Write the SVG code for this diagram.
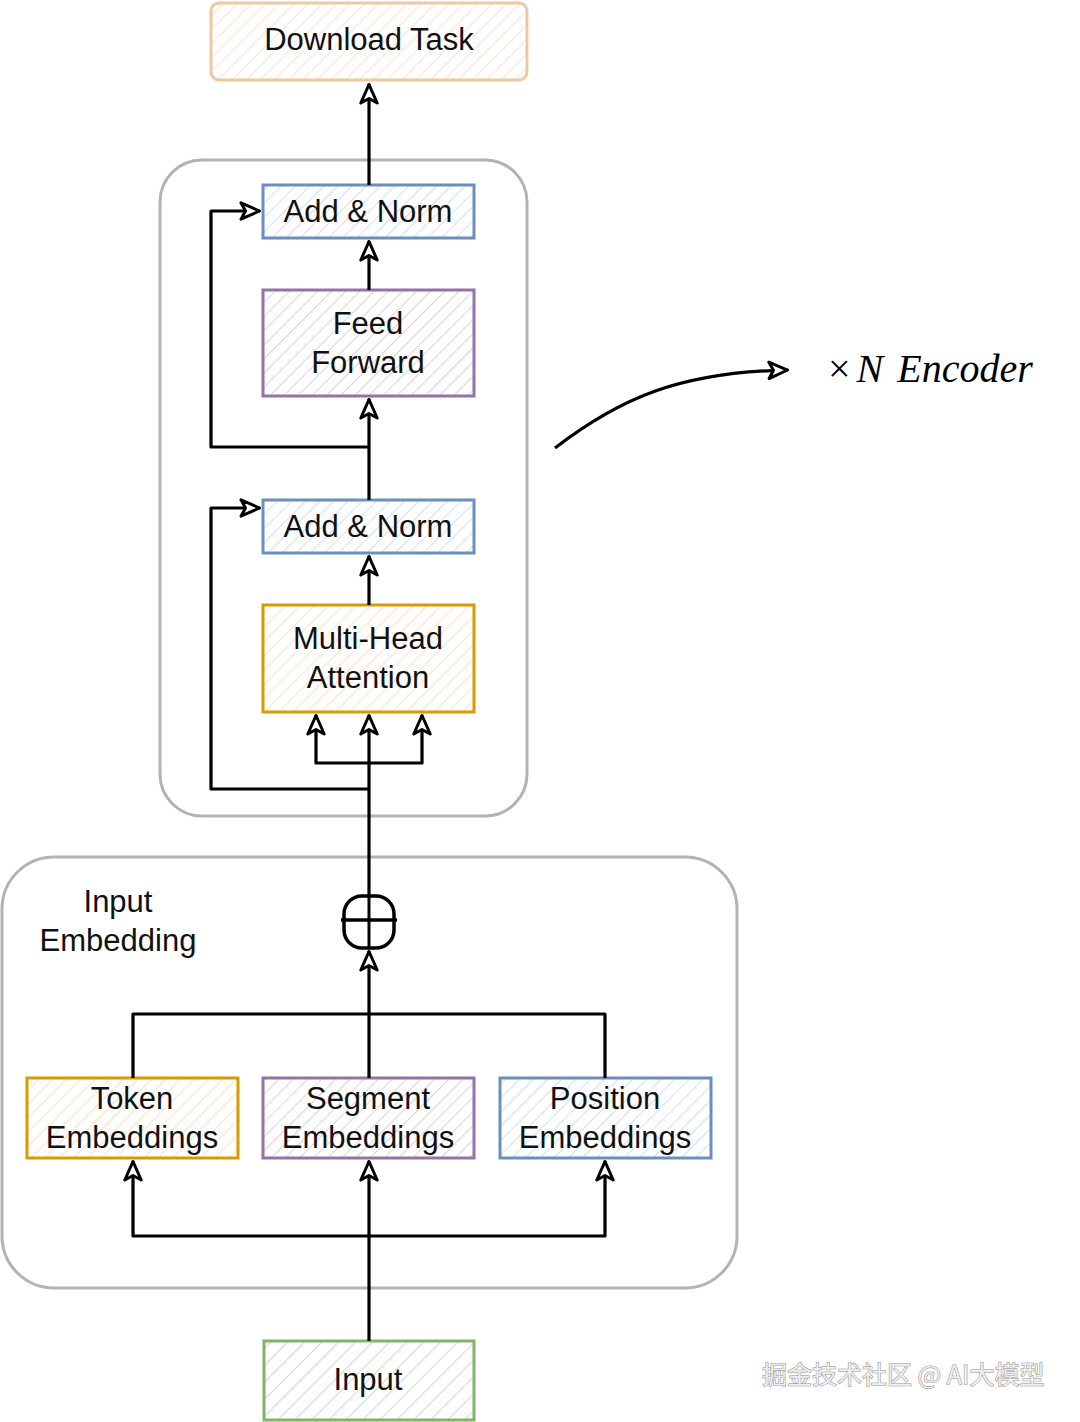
<svg xmlns="http://www.w3.org/2000/svg" width="1080" height="1422" viewBox="0 0 1080 1422">
<defs>
<pattern id="hOrange" patternUnits="userSpaceOnUse" width="10" height="10" patternTransform="rotate(45)"><rect width="10" height="10" fill="#fff"/><line x1="0" y1="0" x2="0" y2="10" stroke="#fbd6ae" stroke-width="1.5"/></pattern>
<pattern id="hTan" patternUnits="userSpaceOnUse" width="10" height="10" patternTransform="rotate(45)"><rect width="10" height="10" fill="#fff"/><line x1="0" y1="0" x2="0" y2="10" stroke="#f5dcc2" stroke-width="1.5"/></pattern>
<pattern id="hBlue" patternUnits="userSpaceOnUse" width="10" height="10" patternTransform="rotate(45)"><rect width="10" height="10" fill="#fff"/><line x1="0" y1="0" x2="0" y2="10" stroke="#c0d3f0" stroke-width="1.5"/></pattern>
<pattern id="hPurple" patternUnits="userSpaceOnUse" width="10" height="10" patternTransform="rotate(45)"><rect width="10" height="10" fill="#fff"/><line x1="0" y1="0" x2="0" y2="10" stroke="#d0c3d8" stroke-width="1.5"/></pattern>
<pattern id="hGreen" patternUnits="userSpaceOnUse" width="12" height="12" patternTransform="rotate(45)"><rect width="12" height="12" fill="#fff"/><line x1="0" y1="0" x2="0" y2="12" stroke="#c3e0c1" stroke-width="2"/></pattern>
<marker id="arr" markerUnits="userSpaceOnUse" viewBox="0 0 22 20" refX="21" refY="10" markerWidth="22" markerHeight="20" orient="auto">
<path d="M2,1.8 L20.5,10 L2,18.2 L6.5,10 Z" fill="#fff" stroke="#000" stroke-width="3" stroke-linejoin="round"/>
</marker>
</defs>
<style>
.lbl{font-family:"Liberation Sans",Arial,sans-serif;font-size:31px;fill:#111;text-anchor:middle}
.con{fill:none;stroke:#000;stroke-width:3.2;stroke-linejoin:round}
.grp{fill:none;stroke:#b3b3b3;stroke-width:3}
.box{stroke-width:3}
</style>
<rect width="1080" height="1422" fill="#fff"/>

<g id="encoder-container"><rect class="grp" x="160" y="160" width="367" height="656" rx="42"/></g>
<g id="embedding-container"><rect class="grp" x="2" y="857" width="735" height="431" rx="52"/></g>

<g id="download-task"><rect class="box" x="211" y="3" width="316" height="77" rx="8" fill="url(#hTan)" stroke="#ecc9a4"/><text class="lbl" x="369" y="50">Download Task</text></g>
<g id="add-norm-top"><rect class="box" x="263" y="185" width="211" height="53" fill="url(#hBlue)" stroke="#6c8ebf"/><text class="lbl" x="368" y="222">Add &amp; Norm</text></g>
<g id="feed-forward"><rect class="box" x="263" y="290" width="211" height="106" fill="url(#hPurple)" stroke="#9673a6"/><text class="lbl" x="368" y="334">Feed</text><text class="lbl" x="368" y="373">Forward</text></g>
<g id="add-norm-bottom"><rect class="box" x="263" y="500" width="211" height="53" fill="url(#hBlue)" stroke="#6c8ebf"/><text class="lbl" x="368" y="537">Add &amp; Norm</text></g>
<g id="multi-head-attention"><rect class="box" x="263" y="605" width="211" height="107" fill="url(#hOrange)" stroke="#d79b00"/><text class="lbl" x="368" y="649">Multi-Head</text><text class="lbl" x="368" y="688">Attention</text></g>

<g id="input-embedding-label"><text class="lbl" x="118" y="912">Input</text><text class="lbl" x="118" y="951">Embedding</text></g>

<g id="token-embeddings"><rect class="box" x="27" y="1078" width="211" height="80" fill="url(#hOrange)" stroke="#d79b00"/><text class="lbl" x="132" y="1109">Token</text><text class="lbl" x="132" y="1148">Embeddings</text></g>
<g id="segment-embeddings"><rect class="box" x="263" y="1078" width="211" height="80" fill="url(#hPurple)" stroke="#9673a6"/><text class="lbl" x="368" y="1109">Segment</text><text class="lbl" x="368" y="1148">Embeddings</text></g>
<g id="position-embeddings"><rect class="box" x="500" y="1078" width="211" height="80" fill="url(#hBlue)" stroke="#6c8ebf"/><text class="lbl" x="605" y="1109">Position</text><text class="lbl" x="605" y="1148">Embeddings</text></g>
<g id="input"><rect class="box" x="264" y="1341" width="210" height="79" fill="url(#hGreen)" stroke="#82b366"/><text class="lbl" x="368" y="1390">Input</text></g>

<g id="sum-node"><rect x="344" y="896" width="50" height="52" rx="18" fill="#fff" stroke="#000" stroke-width="3.5"/><line x1="341" y1="920" x2="397" y2="920" stroke="#000" stroke-width="3.5"/><line x1="369" y1="896" x2="369" y2="948" stroke="#000" stroke-width="3"/></g>

<g id="encoder-label"><text x="828" y="382" font-family="'Liberation Serif','Times New Roman',serif" font-size="40" fill="#000">×<tspan dx="6" font-style="italic">N</tspan><tspan dx="14" font-style="italic">Encoder</tspan></text></g>

<g id="connectors">
<path class="con" d="M369,185 L369,84" marker-end="url(#arr)"/>
<path class="con" d="M369,290 L369,241" marker-end="url(#arr)"/>
<path class="con" d="M369,500 L369,399" marker-end="url(#arr)"/>
<path class="con" d="M369,447 L211,447 L211,211 L260,211" marker-end="url(#arr)"/>
<path class="con" d="M369,605 L369,556" marker-end="url(#arr)"/>
<path class="con" d="M369,789 L211,789 L211,508 L260,508" marker-end="url(#arr)"/>
<path class="con" d="M369,896 L369,715" marker-end="url(#arr)"/>
<path class="con" d="M369,763 L316,763 L316,715" marker-end="url(#arr)"/>
<path class="con" d="M369,763 L422,763 L422,715" marker-end="url(#arr)"/>
<path class="con" d="M369,1014 L369,951" marker-end="url(#arr)" stroke-width="3.5"/>
<path class="con" d="M133,1078 L133,1014 L605,1014 L605,1078"/>
<path class="con" d="M369,1078 L369,1014"/>
<path class="con" d="M369,1341 L369,1161" marker-end="url(#arr)" stroke-width="4"/>
<path class="con" d="M369,1236 L133,1236 L133,1161" marker-end="url(#arr)"/>
<path class="con" d="M369,1236 L605,1236 L605,1161" marker-end="url(#arr)"/>
<path class="con" d="M555,448 C620,398 680,372 788,370" marker-end="url(#arr)"/>
</g>

<g id="watermark"><text x="762" y="1384" font-family="'Noto Sans CJK SC','Liberation Sans',sans-serif" font-size="25" fill="#eeeeee" stroke="#8c8c8c" stroke-width="1" paint-order="stroke">掘金技术社区 @ AI大模型</text></g>
</svg>
